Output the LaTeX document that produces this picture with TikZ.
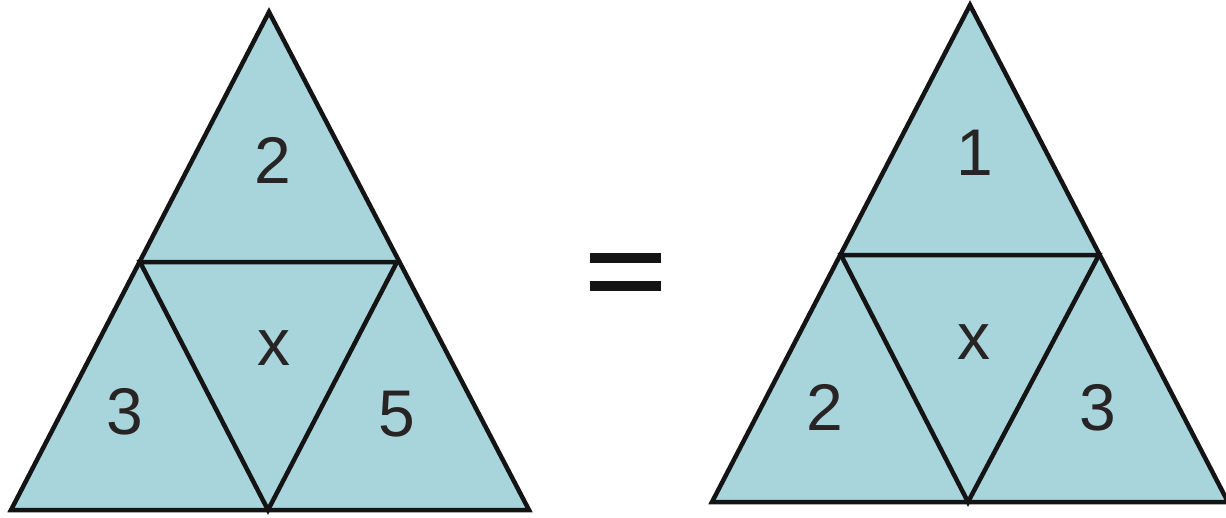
\documentclass[tikz,border=0pt]{standalone}
\usepackage{fontspec}
\setmainfont{Liberation Sans}
\definecolor{tri}{RGB}{168,212,220}
\definecolor{ink}{RGB}{20,20,20}
\definecolor{txt}{RGB}{40,36,36}
\tikzset{
  tripart/.style={draw=ink, line width=4.5pt, line join=miter},
  lbl/.style={text=txt, font=\fontsize{66}{66}\selectfont, inner sep=0pt},
  bar/.style={fill=ink, draw=none}
}
\begin{document}
\begin{tikzpicture}[x=1pt,y=-1pt]
\useasboundingbox (0,0) rectangle (1226,517);
% left triangle
\coordinate (LA) at (269,12);
\coordinate (LB) at (11,510);
\coordinate (LC) at (529,510);
\coordinate (LM1) at (140,262);
\coordinate (LM2) at (397,262);
\coordinate (LM3) at (268,510);
\fill[tri] (LA) -- (LB) -- (LC) -- cycle;
\draw[tripart] (LA) -- (LB) -- (LC) -- cycle;
\draw[tripart] (LM1) -- (LM2) -- (LM3) -- cycle;
\node[lbl] (l2) at (273,160) {2};
\node[lbl] (lx) at (274,348) {x};
\node[lbl] (l3) at (125,412) {3};
\node[lbl] (l5) at (397,414) {5};
% equal sign
\fill[bar] (590,253) rectangle (661,263);
\fill[bar] (590,281) rectangle (661,291);
% right triangle
\coordinate (RA) at (970,5);
\coordinate (RB) at (712,502);
\coordinate (RC) at (1228,502);
\coordinate (RM1) at (841,255);
\coordinate (RM2) at (1099,255);
\coordinate (RM3) at (968,502);
\fill[tri] (RA) -- (RB) -- (RC) -- cycle;
\draw[tripart] (RA) -- (RB) -- (RC) -- cycle;
\draw[tripart] (RM1) -- (RM2) -- (RM3) -- cycle;
\node[lbl] (r1) at (975,153) {1};
\node[lbl] (rx) at (974,342) {x};
\node[lbl] (r2) at (825,407) {2};
\node[lbl] (r3) at (1098,408) {3};
\end{tikzpicture}
\end{document}
